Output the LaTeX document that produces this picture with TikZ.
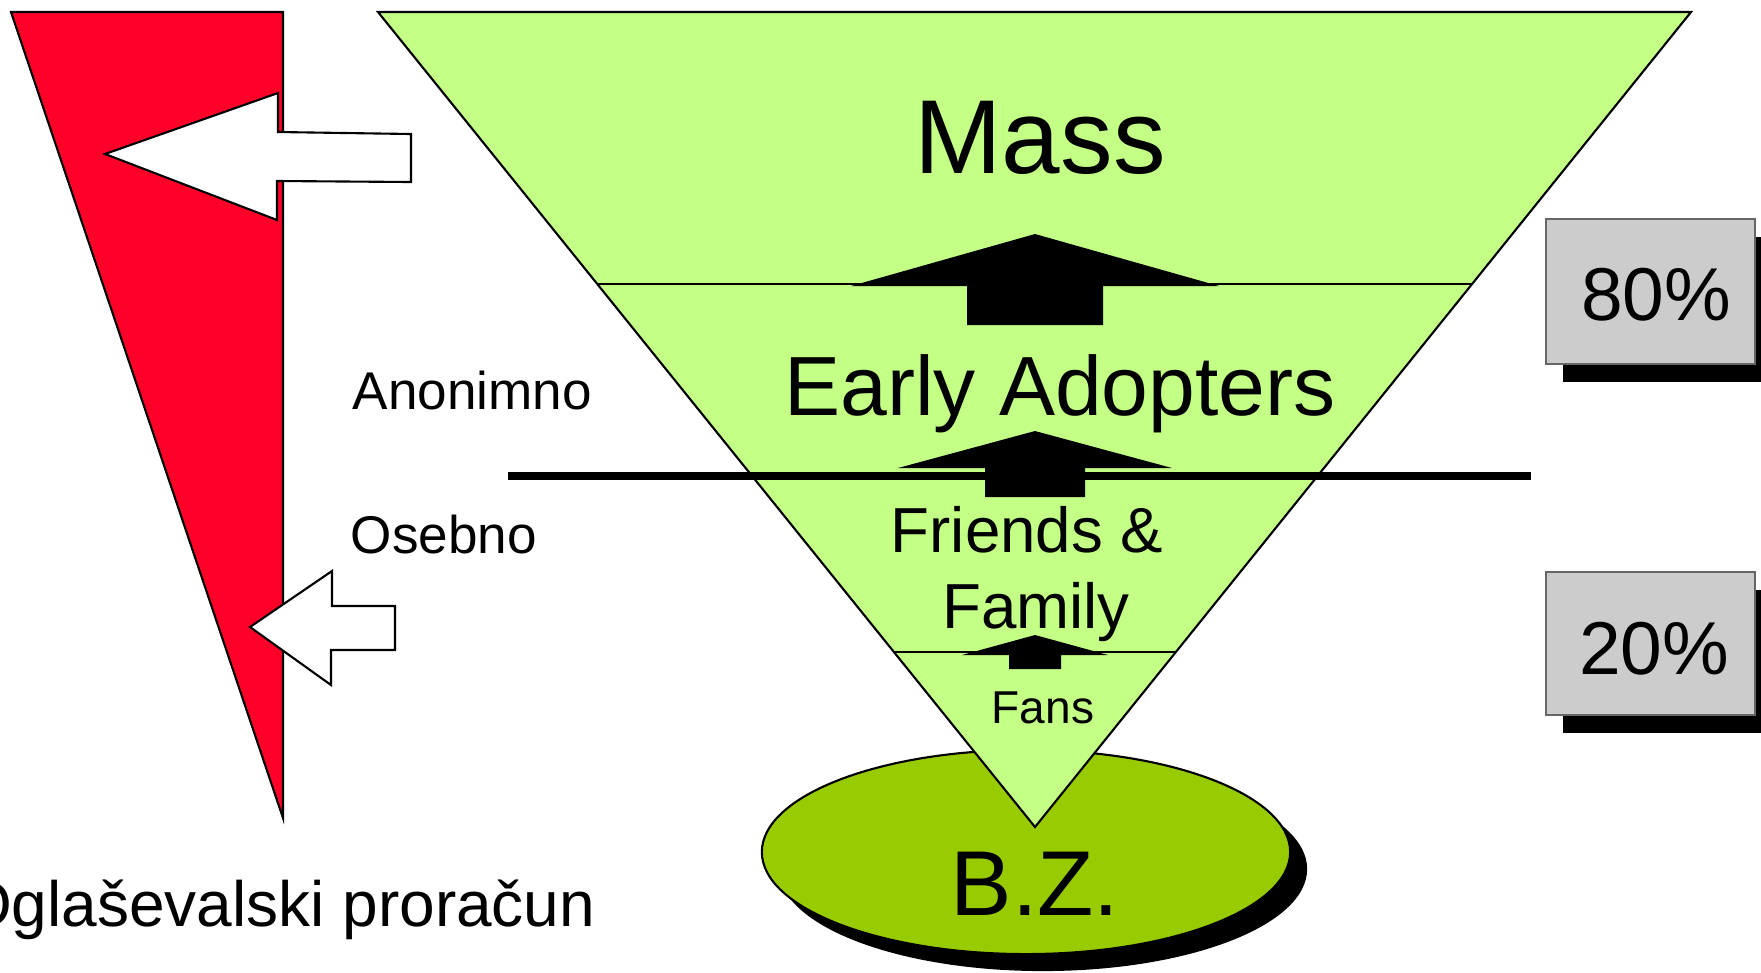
\documentclass[tikz,border=0pt]{standalone}
\usepackage{fontspec}
\setmainfont{Liberation Sans}
\usetikzlibrary{calc}
\definecolor{budgetred}{RGB}{255,0,41}
\definecolor{funnelgreen}{RGB}{196,255,134}
\definecolor{coregreen}{RGB}{153,204,0}
\definecolor{boxgray}{RGB}{204,204,204}

\begin{document}
\begin{tikzpicture}[x=0.01cm, y=-0.01cm,
    outline/.style={draw=black, line width=0.6pt},
    lbl/.style={inner sep=0pt, anchor=base},
    pctbox/.style={draw=black!60, fill=boxgray, line width=0.5pt}]
    \useasboundingbox (0,0) rectangle (1761,972);

    % Budget wedge
    \draw[outline, fill=budgetred] (11,12) -- (283,12) -- (283,818) -- cycle;
    \draw[outline, fill=white] (105,154) -- (278,93) -- (278,132) -- (411,134) -- (411,182) -- (277,181) -- (277,220) -- cycle;
    \draw[outline, fill=white] (250,627) -- (332,571) -- (332,606) -- (395,606) -- (395,650) -- (331,650) -- (331,685) -- cycle;
    \node[lbl, anchor=base west, font=\fontsize{15.1pt}{18pt}\selectfont] (anon) at (352,409) {Anonimno};
    \node[lbl, anchor=base west, font=\fontsize{15.1pt}{18pt}\selectfont] (oseb) at (350,553) {Osebno};
    \node[lbl, anchor=base east, font=\fontsize{18.2pt}{22pt}\selectfont] (budget) at (596,926) {Oglaševalski proračun};

    % Core ellipse
    \fill[black] (1043,869) ellipse [x radius=2.64cm, y radius=1.02cm];
    \draw[outline, fill=coregreen] (1026,852) ellipse [x radius=2.64cm, y radius=1.02cm];

    % Funnel
    \coordinate (tl) at (378,12);
    \coordinate (tr) at (1691,12);
    \coordinate (apex) at (1035,827);
    \draw[outline, fill=funnelgreen] (tl) -- (tr) -- (apex) -- cycle;
    \draw[outline] ($(tl)!0.3337!(apex)$) -- ($(tr)!0.3337!(apex)$);
    \draw[outline] ($(tl)!0.7853!(apex)$) -- ($(tr)!0.7853!(apex)$);
    \foreach \ty/\hb/\hw/\sw/\yb in {234/286/184/68/325, 431/468/137/50/497, 635/655/73/26/669} {
        \fill[black] (1035,\ty) -- (1035+\hw,\hb) -- (1035+\sw,\hb) -- (1035+\sw,\yb)
            -- (1035-\sw,\yb) -- (1035-\sw,\hb) -- (1035-\hw,\hb) -- cycle;
    }
    \draw[line width=2.3pt] (508,476) -- (1531,476);

    \node[lbl, font=\fontsize{29.9pt}{36pt}\selectfont] (mass) at (1040,173) {Mass};
    \node[lbl, font=\fontsize{23.9pt}{28pt}\selectfont] (early) at (1060,415) {Early Adopters};
    \node[lbl, font=\fontsize{18.1pt}{22pt}\selectfont] (friends) at (1027,552) {Friends \&};
    \node[lbl, font=\fontsize{18.1pt}{22pt}\selectfont] (family) at (1036,628) {Family};
    \node[lbl, font=\fontsize{13.1pt}{16pt}\selectfont] (fans) at (1043,723) {Fans};
    \node[lbl, font=\fontsize{26.2pt}{31pt}\selectfont] (bz) at (1035,915) {B.Z.};

    % Share boxes
    \fill[black] (1563,237) rectangle (1772,382);
    \draw[pctbox] (1546,219) rectangle (1755,364);
    \node[lbl, font=\fontsize{21.3pt}{25pt}\selectfont] (pct80) at (1656,320) {80\%};
    \fill[black] (1563,590) rectangle (1772,733);
    \draw[pctbox] (1546,572) rectangle (1755,715);
    \node[lbl, font=\fontsize{21.3pt}{25pt}\selectfont] (pct20) at (1654,674) {20\%};
\end{tikzpicture}
\end{document}
